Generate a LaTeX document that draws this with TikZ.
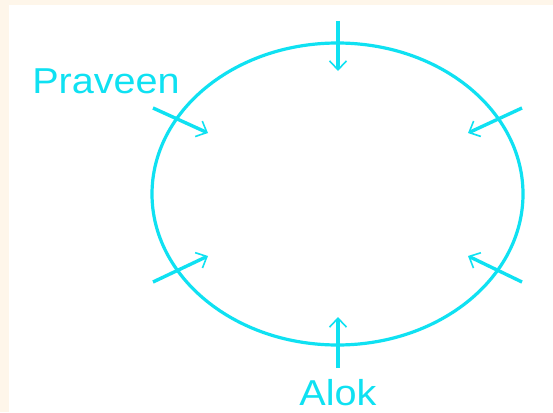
\documentclass[tikz,border=0pt]{standalone}
\usepackage{fontspec}
\setmainfont{Liberation Sans}
\usetikzlibrary{arrows.meta}
\definecolor{cy}{RGB}{15,225,242}
\definecolor{bgc}{RGB}{254,246,234}
\begin{document}
\begin{tikzpicture}[x=1pt,y=-1pt,
  ptr/.style={draw=cy, line width=3.4pt, -{Straight Barb[length=9pt,width=17pt,line width=1.6pt]}},
  lbl/.style={text=cy, font=\fontsize{36}{40}\selectfont, xscale=1.1, inner sep=0pt}]
\fill[bgc] (0,0) rectangle (553,412);
\fill[white] (9,5) rectangle (553,412);
\useasboundingbox (0,0) rectangle (553,412);
\draw[cy, line width=3.2pt] (337.5,194) ellipse [x radius=185.5pt, y radius=151pt];
\coordinate (t0) at (338,21);  \coordinate (t1) at (338,71);
\coordinate (b0) at (338,368); \coordinate (b1) at (338,317);
\coordinate (ul0) at (153,108); \coordinate (ul1) at (208,133);
\coordinate (ur0) at (522,108); \coordinate (ur1) at (468,133);
\coordinate (ll0) at (153,282); \coordinate (ll1) at (208,256);
\coordinate (lr0) at (522,282); \coordinate (lr1) at (468,256);
\draw[ptr] (t0) -- (t1);
\draw[ptr] (b0) -- (b1);
\draw[ptr] (ul0) -- (ul1);
\draw[ptr] (ur0) -- (ur1);
\draw[ptr] (ll0) -- (ll1);
\draw[ptr] (lr0) -- (lr1);
\node[lbl] (praveen) at (106,81) {Praveen};
\node[lbl] (alok) at (338,393) {Alok};
\end{tikzpicture}
\end{document}
